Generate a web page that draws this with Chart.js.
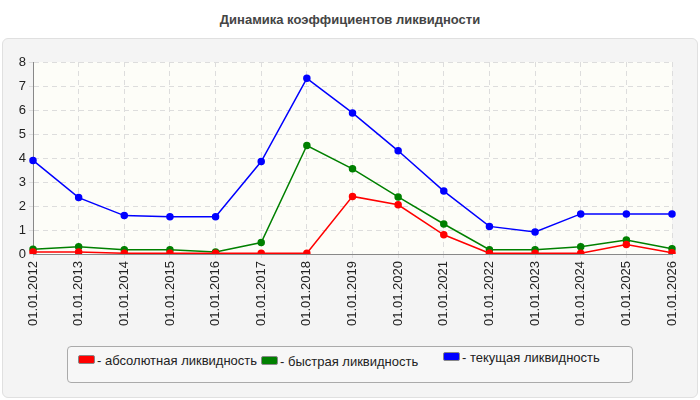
<!DOCTYPE html>
<html>
<head>
<meta charset="utf-8">
<script src="https://cdn.jsdelivr.net/npm/chart.js@4/dist/chart.umd.min.js"></script>
<style>
  body { margin: 0; background: #ffffff; font-family: "Liberation Sans", Arial, sans-serif; }
  #wrap { position: relative; width: 700px; height: 400px; }
  #panel { position: absolute; left: 2px; top: 38px; width: 694px; height: 358px; background: #f4f4f4; border: 1px solid #e0e0e0; border-radius: 6px; }
  #titulo { position: absolute; left: 0; top: 12px; width: 700px; text-align: center; font-weight: bold; font-size: 13px; color: #444; }
  #legenda { position: absolute; left: 67px; top: 346px; width: 564px; height: 35px; border: 1px solid #aaa; border-radius: 4px; background: #f7f7f7; font-size: 13px; color: #222; }
  #legenda span { position: absolute; top: 6px; }
  #legenda i { display: inline-block; width: 15px; height: 7px; border: 1px solid #888; border-radius: 2px; margin-right: 2px; vertical-align: 1px; }
  canvas { position: absolute; left: 0; top: 0; }
</style>
</head>
<body>
<div id="wrap">
  <div id="panel"></div>
  <div id="titulo">Динамика коэффициентов ликвидности</div>
  <canvas id="grafico" width="700" height="400"></canvas>
  <div id="legenda">
    <span style="left:10px"><i style="background:#ff0000"></i>- абсолютная ликвидность</span>
    <span style="left:193px;top:7px"><i style="background:#008000"></i>- быстрая ликвидность</span>
    <span style="left:375px;top:3px"><i style="background:#0000ff"></i>- текущая ликвидность</span>
  </div>
</div>
<script>
// Даты отчётов
const datas = ["01.01.2012","01.01.2013","01.01.2014","01.01.2015","01.01.2016","01.01.2017","01.01.2018","01.01.2019","01.01.2020","01.01.2021","01.01.2022","01.01.2023","01.01.2024","01.01.2025","01.01.2026"];
const absoluta = [0.08,0.08,0.03,0.03,0.03,0.03,0.03,2.4,2.05,0.8,0.03,0.03,0.03,0.4,0.05];
const rapida = [0.2,0.3,0.18,0.18,0.08,0.48,4.52,3.55,2.38,1.25,0.18,0.18,0.3,0.58,0.22];
const corrente = [3.9,2.35,1.6,1.55,1.55,3.85,7.32,5.88,4.3,2.62,1.15,0.92,1.67,1.67,1.67];

// Fundo da área do gráfico
const fundoArea = {
    id: 'fundoArea',
    beforeDraw(chart) {
        const { ctx, chartArea: a } = chart;
        ctx.save();
        ctx.fillStyle = '#fdfdf8';
        ctx.fillRect(a.left, a.top, a.right - a.left, a.bottom - a.top);
        ctx.restore();
    }
};

function serie(nome, valores, cor) {
    return {
        label: nome, data: valores, borderColor: cor, backgroundColor: cor,
        borderWidth: 1.5, pointRadius: 3, pointHoverRadius: 3, tension: 0
    };
}

const fonte = { family: 'Liberation Sans', size: 13 };

new Chart(document.getElementById("grafico"), {
    type: 'line',
    data: {
        labels: datas,
        datasets: [
            serie('абсолютная ликвидность', absoluta, '#ff0000'),
            serie('быстрая ликвидность', rapida, '#008000'),
            serie('текущая ликвидность', corrente, '#0000ff')
        ]
    },
    plugins: [fundoArea],
    options: {
        responsive: false,
        animation: false,
        layout: { padding: { top: 62, right: 28, left: 0, bottom: 0 } },
        plugins: { legend: { display: false }, title: { display: false }, tooltip: { enabled: false } },
        scales: {
            x: {
                offset: false,
                afterFit: s => { s.height = 146; },
                grid: { color: '#dddddd', tickLength: 4 },
                border: { color: '#888', dash: [5, 4] },
                ticks: { maxRotation: 90, minRotation: 90, color: '#222', font: fonte }
            },
            y: {
                min: 0, max: 8,
                afterFit: s => { s.width = 33; },
                grid: { color: '#dddddd', tickLength: 4 },
                border: { color: '#888', dash: [5, 4] },
                ticks: { stepSize: 1, color: '#222', font: fonte }
            }
        }
    }
});
</script>
</body>
</html>
